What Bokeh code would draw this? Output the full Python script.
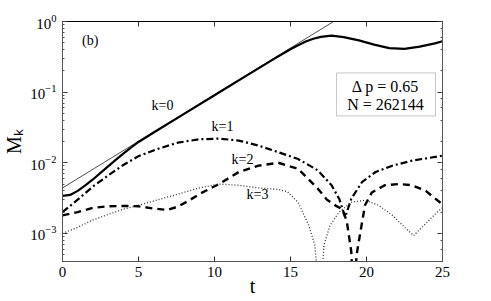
from bokeh.plotting import figure
from bokeh.models import LinearAxis, LogAxis, Range1d, BoxAnnotation, FixedTicker
from bokeh.core.properties import value
from bokeh.embed import file_html
from bokeh.resources import INLINE

# k = 0 (solid)
t0 = [0, 0.5, 1, 1.5, 2, 2.5, 3, 3.5, 4, 4.5, 5, 6, 8, 10, 12, 14, 15, 15.5, 16, 16.5, 17, 17.7, 18.5, 19.5, 20.5, 21.5, 22.5, 23.5, 24.5, 25]
m0 = [3.4e-3, 3.5e-3, 4.0e-3, 4.8e-3, 5.8e-3, 7.2e-3, 8.9e-3, 0.011, 0.0135, 0.0164, 0.0197, 0.0268, 0.0493, 0.0904, 0.166, 0.303, 0.405, 0.46, 0.52, 0.57, 0.605, 0.63, 0.60, 0.54, 0.47, 0.42, 0.41, 0.44, 0.49, 0.525]

# exponential fit (thin line)
tfit = [0, 18]
mfit = [4.4e-3, 1.05]

# k = 1 (dash-dot)
t1 = [0, 1, 2, 3, 4, 5, 6.3, 7.6, 9, 10.3, 11.6, 12.9, 14.2, 15.5, 16.8, 17.7, 18.2, 18.6, 19.0, 19.7, 20.6, 21.7, 23.0, 24.7, 25]
m1 = [2.0e-3, 3.0e-3, 4.6e-3, 6.6e-3, 9.3e-3, 0.0124, 0.0158, 0.0193, 0.0215, 0.022, 0.0206, 0.0175, 0.0141, 0.0113, 7.8e-3, 4.8e-3, 3.1e-3, 1.7e-3, 3.1e-3, 5.3e-3, 7.4e-3, 9.1e-3, 0.0107, 0.0123, 0.0126]

# k = 2 (dashed)
t2 = [0, 1, 2, 3, 4, 5, 6, 6.9, 7.6, 8.3, 9, 10.3, 11.6, 12.9, 14.2, 15.5, 16.8, 17.4, 18.0, 18.4, 18.7, 19.0, 19.15, 19.35, 19.6, 19.9, 20.35, 21.2, 22.1, 23.0, 23.9, 24.7, 25]
m2 = [1.8e-3, 2.0e-3, 2.3e-3, 2.42e-3, 2.45e-3, 2.42e-3, 2.25e-3, 2.15e-3, 2.4e-3, 2.9e-3, 3.6e-3, 5.0e-3, 7.4e-3, 9.1e-3, 0.010, 8.2e-3, 4.3e-3, 3.0e-3, 2.45e-3, 2.2e-3, 1.5e-3, 5.5e-4, 1e-4, 5e-4, 1.05e-3, 2.5e-3, 3.8e-3, 4.8e-3, 5.0e-3, 4.8e-3, 4.0e-3, 2.9e-3, 2.6e-3]

# k = 3 (dotted)
t3 = [0, 1, 2, 3, 4, 5, 6.3, 7.6, 9, 10.3, 11.6, 12.9, 14.2, 14.8, 15.5, 16.2, 16.6, 16.95, 17.2, 17.6, 18.2, 19.0, 19.9, 20.8, 21.7, 22.5, 23.1, 23.9, 24.7, 25]
m3 = [1.0e-3, 1.22e-3, 1.55e-3, 1.85e-3, 2.2e-3, 2.5e-3, 3.0e-3, 3.6e-3, 4.4e-3, 5.0e-3, 4.8e-3, 4.4e-3, 4.2e-3, 3.9e-3, 2.75e-3, 1.3e-3, 6.8e-4, 1e-4, 6.8e-4, 1.3e-3, 2.0e-3, 2.75e-3, 2.95e-3, 2.5e-3, 1.8e-3, 1.23e-3, 9.3e-4, 1.38e-3, 2.05e-3, 2.3e-3]

# curve labels
label_text = ["(b)", "k=0", "k=1", "k=2", "k=3"]
label_t = [1.82, 6.58, 10.53, 11.84, 12.83]
label_m = [0.535, 0.0638, 0.0322, 0.0111, 3.5e-3]

# parameter box
box_text = ["\u0394 p = 0.65", "N = 262144"]
box_t = [21.25, 21.25]
box_m = [0.122, 0.066]

x_ticks = [0, 5, 10, 15, 20, 25]

FONT = "'Liberation Serif'"

p = figure(frame_width=380, frame_height=240, output_backend="svg", toolbar_location=None,
           y_axis_type="log", x_range=Range1d(0, 25), y_range=Range1d(4.0e-4, 1.0),
           min_border_left=57, min_border_right=36, min_border_top=21, min_border_bottom=31)
p.grid.visible = False
p.outline_line_color = "black"
p.outline_line_width = 1
p.background_fill_color = "white"
p.border_fill_color = "white"

def style_axis(ax, labels=True, minor=True):
    ax.major_tick_in = 5
    ax.major_tick_out = 0
    ax.minor_tick_in = 2
    ax.minor_tick_out = 0
    ax.axis_line_color = "#555555"
    ax.axis_line_width = 1
    ax.major_tick_line_color = "#333333"
    ax.minor_tick_line_color = "#555555" if minor else None
    ax.major_label_text_font = FONT
    ax.major_label_text_font_size = "15px"
    ax.major_label_text_color = "black"
    ax.axis_label_text_font = FONT
    ax.axis_label_text_font_style = "normal"
    ax.axis_label_text_color = "black"
    if not labels:
        ax.major_label_text_font_size = "0px"
        ax.major_label_text_color = None

xa = p.xaxis[0]
xa.ticker = FixedTicker(ticks=x_ticks)
style_axis(xa, minor=False)
xa.major_label_standoff = 5
xa.axis_label = "t"
xa.axis_label_text_font_size = "20px"
xa.axis_label_standoff = -5
ya = p.yaxis[0]
style_axis(ya)
ya.major_label_standoff = 6
ya.axis_label = "M\u2096"
ya.axis_label_text_font_size = "20px"
ya.axis_label_standoff = 2

top = LinearAxis(ticker=FixedTicker(ticks=x_ticks))
style_axis(top, labels=False, minor=False)
top.axis_line_color = "black"
p.add_layout(top, "above")
right = LogAxis()
style_axis(right, labels=False)
p.add_layout(right, "right")

box = BoxAnnotation(left=18.03, right=24.54, top=0.187, bottom=0.046, level="underlay",
                    fill_color="white", fill_alpha=1, line_color="#444444", line_width=1)
p.add_layout(box)

p.line(tfit, mfit, line_color="black", line_width=0.7)
p.line(t0, m0, line_color="black", line_width=2.2)
p.line(t1, m1, line_color="black", line_width=2.2, line_dash="7 3 2 3")
p.line(t2, m2, line_color="black", line_width=2.4, line_dash="7 5")
p.line(t3, m3, line_color="#333333", line_width=1.3, line_dash="1 2")

p.text(x=label_t, y=label_m, text=label_text, text_font=value("Liberation Serif"),
       text_font_size="14px", text_align="center", text_baseline="middle", text_color="black")

p.text(x=box_t, y=box_m, text=box_text, text_font=value("Liberation Serif"),
       text_font_size="16px", text_align="center", text_baseline="middle", text_color="black")

open("out.html", "w").write(file_html(p, INLINE))
